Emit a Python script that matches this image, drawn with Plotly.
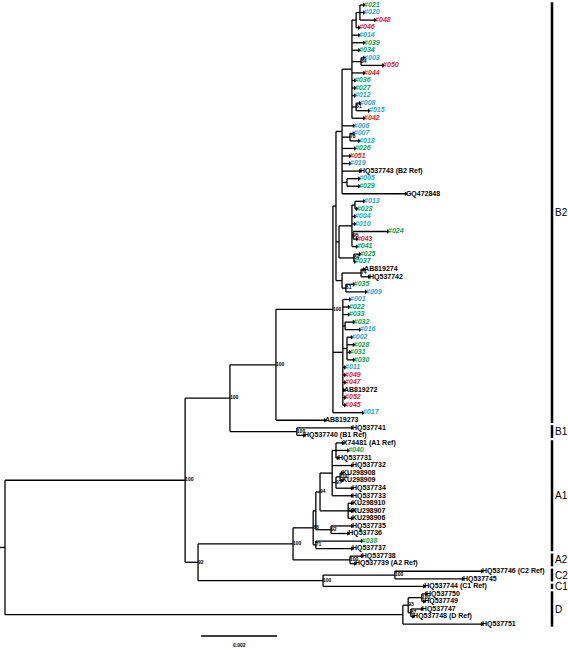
import plotly.graph_objects as go

# ---------------- data ----------------
LEAF_NAMES = [
    "#021", "#020", "#048", "#046", "#014", "#039", "#034", "#003", "#050", "#044",
    "#036", "#027", "#012", "#008", "#015", "#042", "#006", "#007", "#018", "#026",
    "#051", "#019", "HQ537743 (B2 Ref)", "#005", "#029", "GQ472848", "#013", "#023", "#004", "#010",
    "#024", "#043", "#041", "#025", "#037", "AB819274", "HQ537742", "#035", "#009", "#001",
    "#022", "#033", "#032", "#016", "#002", "#028", "#031", "#030", "#011", "#049",
    "#047", "AB819272", "#052", "#045", "#017", "AB819273", "HQ537741", "HQ537740 (B1 Ref)", "X74481 (A1 Ref)", "#040",
    "HQ537731", "HQ537732", "KU298908", "KU298909", "HQ537734", "HQ537733", "KU298910", "KU298907", "KU298906", "HQ537735",
    "HQ537736", "#038", "HQ537737", "HQ537738", "HQ537739 (A2 Ref)", "HQ537746 (C2 Ref)", "HQ537745", "HQ537744 (C1 Ref)", "HQ537750", "HQ537749",
    "HQ537747", "HQ537748 (D Ref)", "HQ537751",
]
LEAF_GROUP = [
    "g", "b", "r", "r", "b", "g", "g", "b", "r", "r",
    "g", "g", "b", "b", "b", "r", "b", "b", "b", "g",
    "r", "b", "k", "b", "g", "k", "b", "g", "b", "b",
    "g", "r", "g", "g", "g", "k", "k", "g", "b", "b",
    "g", "g", "g", "b", "b", "g", "g", "g", "b", "r",
    "r", "k", "r", "r", "b", "k", "k", "k", "k", "g",
    "k", "k", "k", "k", "k", "k", "k", "k", "k", "k",
    "k", "g", "k", "k", "k", "k", "k", "k", "k", "k",
    "k", "k", "k",
]
# distance from root, in units of 0.001 substitutions/site
LEAF_DEPTH = [
    9.45, 9.45, 9.74, 9.32, 9.32, 9.45, 9.32, 9.45, 9.95, 9.45,
    9.21, 9.21, 9.21, 9.34, 9.58, 9.45, 9.18, 9.18, 9.32, 9.21,
    9.08, 9.08, 9.34, 9.32, 9.32, 10.55, 9.45, 9.26, 9.21, 9.21,
    10.08, 9.26, 9.26, 9.34, 9.21, 9.45, 9.58, 9.18, 9.50, 9.08,
    9.05, 9.05, 9.18, 9.34, 9.13, 9.18, 9.08, 9.18, 8.95, 8.95,
    8.95, 8.92, 8.95, 8.95, 9.42, 8.42, 9.13, 7.87, 8.89, 9.03,
    8.76, 9.13, 8.87, 8.87, 9.13, 9.13, 9.13, 9.13, 9.13, 9.13,
    9.03, 9.39, 9.13, 9.39, 9.21, 12.55, 12.05, 11.03, 11.08, 11.03,
    10.97, 10.74, 12.55,
]

NODE_NAMES = [
    "ROOT", "INGROUP", "B", "B1", "B2N", "B2core", "B2UMX", "B2upper", "B2a", "N1",
    "N2", "N3", "N4", "N5", "N6", "B2mid", "Nmid1", "N13", "N24", "Nmid2",
    "B2x", "NAB", "N81", "B2low", "Nb", "Nc", "ACG", "A", "A1", "X",
    "N94", "NA1u", "A1top", "N97", "NKU1", "NKU2", "N92", "N71", "A2", "C",
    "C2", "D", "ND1", "ND2", "ND3",
]
NODE_DEPTH = [
    0.0, 4.74, 5.92, 7.68, 7.13, 8.63, 8.71, 8.87, 9.13, 9.24,
    9.34, 9.37, 9.24, 9.08, 9.00, 8.79, 9.13, 9.21, 9.16, 9.18,
    8.87, 9.37, 8.97, 8.89, 8.95, 9.00, 5.08, 7.58, 8.11, 8.18,
    8.29, 8.61, 8.71, 8.71, 8.82, 9.03, 8.58, 8.18, 9.08, 8.37,
    10.26, 10.47, 10.61, 10.97, 10.68,
]
NODE_CHILDREN = [
    ["INGROUP", "D"],
    ["B", "ACG"],
    ["B2N", "B1"],
    ["HQ537741", "HQ537740 (B1 Ref)"],
    ["B2core", "AB819273"],
    ["B2UMX", "B2low", "#017"],
    ["B2upper", "B2mid", "B2x"],
    ["B2a", "#006", "N5", "#026", "#051", "#019", "HQ537743 (B2 Ref)", "N6", "GQ472848"],
    ["N1", "#014", "#039", "#034", "N3", "#044", "#036", "#027", "#012", "N4", "#042"],
    ["N2", "#046"],
    ["#021", "#020", "#048"],
    ["#003", "#050"],
    ["#008", "#015"],
    ["#007", "#018"],
    ["#005", "#029"],
    ["Nmid1", "Nmid2"],
    ["N13", "#004", "#010", "N24", "#041"],
    ["#013", "#023"],
    ["#024", "#043"],
    ["#025", "#037"],
    ["NAB", "N81"],
    ["AB819274", "HQ537742"],
    ["#035", "#009"],
    ["#001", "#022", "#033", "Nb", "Nc", "#011", "#049", "#047", "AB819272", "#052", "#045"],
    ["#032", "#016"],
    ["#002", "#028", "#031", "#030"],
    ["A", "C"],
    ["A1", "A2"],
    ["X", "N71"],
    ["N94", "N92"],
    ["NA1u", "NKU2"],
    ["A1top", "HQ537732", "N97", "HQ537733"],
    ["X74481 (A1 Ref)", "#040", "HQ537731"],
    ["NKU1", "HQ537734"],
    ["KU298908", "KU298909"],
    ["KU298910", "KU298907", "KU298906"],
    ["HQ537735", "HQ537736"],
    ["#038", "HQ537737"],
    ["HQ537738", "HQ537739 (A2 Ref)"],
    ["C2", "HQ537744 (C1 Ref)"],
    ["HQ537746 (C2 Ref)", "HQ537745"],
    ["ND1", "HQ537751"],
    ["ND2", "ND3"],
    ["HQ537750", "HQ537749"],
    ["HQ537747", "HQ537748 (D Ref)"],
]
NODE_SUPPORT = [
    "", "100", "100", "100", "100", "100", "", "", "", "",
    "", "84", "81", "78", "", "", "", "", "95", "84",
    "", "74", "81", "", "", "", "92", "100", "68", "",
    "94", "", "", "97", "100", "100", "92", "71", "100", "100",
    "100", "", "93", "100", "87",
]

CLADE_NAMES = ["B2", "B1", "A1", "A2", "C2", "C1", "D"]
CLADE_FIRST = ["#021", "HQ537741", "X74481 (A1 Ref)", "HQ537738", "HQ537746 (C2 Ref)", "HQ537744 (C1 Ref)", "HQ537750"]
CLADE_LAST = ["AB819273", "HQ537740 (B1 Ref)", "HQ537737", "HQ537739 (A2 Ref)", "HQ537745", "HQ537744 (C1 Ref)", "HQ537751"]

SCALE_BAR_LEN = 2.0   # 0.002 substitutions/site
SCALE_BAR_TEXT = "0.002"

# ---------------- layout helpers ----------------
W, H = 568, 650
PX_PER_UNIT = 38.0        # horizontal pixels per 0.001 subs/site
ROOT_PX = 5.0
LEAF_PX0, LEAF_STEP = 5.0, 7.55

X_RANGE = [(0 - ROOT_PX) / PX_PER_UNIT, (W - ROOT_PX) / PX_PER_UNIT]
Y_RANGE = [(H - LEAF_PX0) / LEAF_STEP, (0 - LEAF_PX0) / LEAF_STEP]

def px_x(px):
    return (px - ROOT_PX) / PX_PER_UNIT

def px_y(py):
    return (py - LEAF_PX0) / LEAF_STEP

COLORS = {"g": "#00a651", "b": "#1ba8e0", "r": "#ec2227", "k": "#000000"}

leaf_index = {n: i for i, n in enumerate(LEAF_NAMES)}
leaf_depth = dict(zip(LEAF_NAMES, LEAF_DEPTH))
node_depth = dict(zip(NODE_NAMES, NODE_DEPTH))
node_children = dict(zip(NODE_NAMES, NODE_CHILDREN))

ycache = {}
def ypos(name):
    if name in leaf_index:
        return float(leaf_index[name])
    if name not in ycache:
        ch = node_children[name]
        ycache[name] = (ypos(ch[0]) + ypos(ch[-1])) / 2.0
    return ycache[name]

def depth(name):
    return leaf_depth[name] if name in leaf_depth else node_depth[name]

lx, ly = [], []
for nm in NODE_NAMES:
    d = node_depth[nm]
    ch = node_children[nm]
    lx += [d, d, None]
    ly += [ypos(ch[0]), ypos(ch[-1]), None]
    for c in ch:
        lx += [d, depth(c), None]
        ly += [ypos(c), ypos(c), None]
# root stub
lx += [X_RANGE[0], 0.0, None]
ly += [ypos("ROOT"), ypos("ROOT"), None]

fig = go.Figure()
fig.add_trace(go.Scatter(x=lx, y=ly, mode="lines",
                         line=dict(color="black", width=1.3),
                         hoverinfo="skip", showlegend=False))

# leaf tips + labels
tx = [leaf_depth[n] for n in LEAF_NAMES]
ty = [float(i) for i in range(len(LEAF_NAMES))]
fig.add_trace(go.Scatter(x=tx, y=ty, mode="markers",
                         marker=dict(symbol="triangle-right", size=4, color="black"),
                         hoverinfo="skip", showlegend=False))
texts = []
for n, g in zip(LEAF_NAMES, LEAF_GROUP):
    texts.append(f"<b><i>{n}</i></b>" if g != "k" else f"<b>{n}</b>")
fig.add_trace(go.Scatter(x=tx, y=ty, mode="text", text=texts,
                         textposition="middle right",
                         textfont=dict(family="Liberation Sans", size=7,
                                       color=[COLORS[g] for g in LEAF_GROUP]),
                         hoverinfo="skip", showlegend=False))

# support values
sx, sy, st = [], [], []
for nm, s in zip(NODE_NAMES, NODE_SUPPORT):
    if s:
        sx.append(node_depth[nm])
        sy.append(ypos(nm))
        st.append(f"<b>{s}</b>")
fig.add_trace(go.Scatter(x=sx, y=sy, mode="text", text=st,
                         textposition="middle right",
                         textfont=dict(family="Liberation Sans", size=5, color="black"),
                         hoverinfo="skip", showlegend=False))

# clade brackets
bx = px_x(552)
for name, f, l in zip(CLADE_NAMES, CLADE_FIRST, CLADE_LAST):
    y0 = leaf_index[f] - 0.35
    y1 = leaf_index[l] + 0.35
    fig.add_shape(type="line", x0=bx, x1=bx, y0=y0, y1=y1,
                  line=dict(color="black", width=2.5))
    fig.add_annotation(x=554.5 / W, xref="paper", y=(y0 + y1) / 2, text=name, showarrow=False,
                       xanchor="left", yanchor="middle", xshift=-2,
                       font=dict(family="Liberation Sans", size=10, color="black"))

# scale bar
sb_x0 = px_x(201)
fig.add_shape(type="line", x0=sb_x0, x1=sb_x0 + SCALE_BAR_LEN,
              y0=px_y(636), y1=px_y(636), line=dict(color="black", width=1.3))
fig.add_annotation(x=sb_x0 + SCALE_BAR_LEN / 2, y=px_y(645), text="<b>" + SCALE_BAR_TEXT + "</b>",
                   showarrow=False, font=dict(family="Liberation Sans", size=5, color="black"))

fig.update_layout(width=W, height=H, margin=dict(l=0, r=0, t=0, b=0),
                  paper_bgcolor="white", plot_bgcolor="white")
fig.update_xaxes(range=X_RANGE, visible=False)
fig.update_yaxes(range=Y_RANGE, visible=False)
fig.write_html("out.html", config={"displayModeBar": False},
               post_script="document.body.style.margin='0px';document.body.style.padding='0px';")
